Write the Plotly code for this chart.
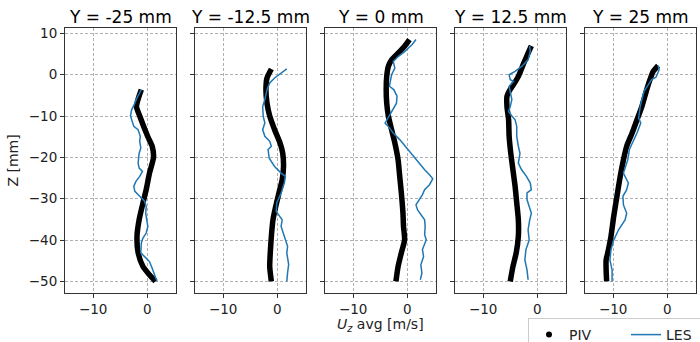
import plotly.graph_objects as go

titles = ["Y = -25 mm", "Y = -12.5 mm", "Y = 0 mm", "Y = 12.5 mm", "Y = 25 mm"]

# PIV profiles (Uz avg [m/s], Z [mm])
piv_z_1 = [-3.6, -5.5, -7.7, -10, -15, -17.3, -20, -23.8, -27.8, -31, -35, -39, -43, -46.4, -48.4, -50]
piv_u_1 = [-1.1, -1.6, -2.0, -1.4, 0.1, 0.9, 1.15, 0.4, -0.2, -0.8, -1.5, -1.9, -1.7, -0.8, 0.4, 1.5]

piv_z_2 = [1.4, -0.8, -3.6, -6.9, -10, -13.3, -16.5, -19, -22.2, -25.4, -28.6, -31.9, -35.1, -39.1, -43.1, -46.4, -50]
piv_u_2 = [-1.1, -1.9, -2.1, -1.9, -1.4, -0.5, 0.5, 1.0, 1.15, 0.9, 0.3, -0.3, -0.8, -1.1, -1.3, -1.4, -1.1]

piv_z_3 = [8.5, 6.9, 5.2, 3.6, 2.0, -0.4, -3.6, -6.9, -10, -13.3, -16.5, -20.6, -24.6, -28.6, -33.5, -36.7, -39.9, -43.1, -46.4, -50]
piv_u_3 = [0.4, -0.5, -1.7, -2.9, -3.5, -3.8, -3.9, -3.8, -3.5, -2.9, -2.3, -1.7, -1.4, -1.1, -0.8, -0.7, -0.5, -1.1, -1.7, -2.1]

piv_z_4 = [7.0, 5.2, 2.8, -0.4, -2.4, -4.0, -5.2, -7.7, -10.9, -14.9, -19, -23, -27, -31, -35.1, -39.1, -43.1, -46.4, -50]
piv_u_4 = [-1.1, -1.7, -2.5, -3.5, -4.4, -5.2, -5.6, -5.6, -5.3, -5.2, -4.9, -4.5, -4.1, -3.8, -3.5, -3.5, -3.9, -4.5, -5.0]

piv_z_5 = [2.2, 0.8, -1.2, -3.6, -7.7, -10.9, -14.1, -17.3, -20.6, -24.6, -29.4, -34.3, -39.1, -43.1, -44.8, -47.2, -50]
piv_u_5 = [-1.7, -2.6, -3.2, -3.8, -4.7, -5.6, -6.5, -7.5, -8.1, -8.7, -9.3, -9.9, -10.4, -11.0, -11.3, -11.3, -11.2]

# LES profiles
les_z_1 = [-3.6, -5.6, -7.5, -8.5, -10, -10.9, -12.5, -13.3, -14.9, -16.1, -17.7, -19, -21.4, -22.6, -23.4, -24.6,
           -25.8, -27, -28.2, -29.4, -30.6, -31.9, -33.5, -35.1, -36.7, -38.3, -39.5, -40.7, -43.1, -44, -45.2,
           -46.8, -48.4, -50]
les_u_1 = [-1.1, -1.9, -2.5, -2.9, -3.1, -2.9, -2.5, -1.7, -1.3, -1.4, -1.2, -1.5, -1.7, -1.5, -0.9, -1.4,
           -2.1, -2.5, -2.3, -1.4, -0.5, -0.2, -0.3, -0.1, 0.1, -0.2, -0.8, -1.1, -1.2, -0.5, 0.4,
           0.9, 1.3, 1.8]

les_z_2 = [1.4, 0.4, -0.8, -2, -3.6, -6, -7.7, -10, -11.7, -13.3, -14.9, -16.1, -17.3, -18.1, -20.2, -22.2,
           -23.8, -24.6, -26.2, -28.6, -31, -33.1, -34.3, -35.1, -36.7, -39.1, -41.5, -43.1, -45.9, -47.9, -50]
les_u_2 = [1.75, 0.7, -0.5, -1.4, -1.9, -2.3, -2.7, -2.6, -2.3, -2.7, -2.3, -1.4, -1.1, -1.7, -1.5, -0.5,
           0.7, 1.5, 1.3, 0.7, -0.1, -0.2, 0.4, 0.9, 0.7, 1.3, 1.9, 1.75, 2.1, 1.9, 1.75]

les_z_3 = [8.5, 7.3, 5.6, 4.4, 3.2, 1.6, 0, -1.6, -2.8, -3.6, -5.2, -6.9, -8.9, -10.9, -11.7, -12.5, -14.1,
           -15.7, -18.1, -19.8, -21.4, -23, -24.2, -25.2, -26.6, -27.8, -29, -30.2, -31.5, -32.7, -33.9,
           -35.1, -36.7, -38.7, -39.9, -42.3, -44, -46, -48, -49.6]
les_u_3 = [1.6, 0.9, -0.5, -1.7, -2.6, -2.3, -2.9, -3.1, -3.3, -2.5, -1.9, -2.0, -2.9, -3.8, -4.1, -3.5, -2.6,
           -1.4, 0.1, 1.3, 2.2, 3.2, 4.1, 4.7, 4.1, 3.2, 2.8, 2.2, 1.6, 1.9, 2.5,
           3.2, 3.3, 3.2, 3.5, 2.8, 3.0, 2.5, 2.7, 2.4]

les_z_4 = [6.9, 5.6, 3.6, 2.0, 0.8, 0, -1.2, -1.6, -2.8, -4.4, -6, -7.7, -8.9, -10, -10.9, -12.5, -14.9,
           -17.3, -19, -21.4, -23, -24.6, -26.2, -27.8, -28.6, -30.2, -31.9, -33.5, -35.1, -37.5, -40,
           -42.3, -44.8, -47.2, -49.6]
les_u_4 = [-1.4, -1.3, -1.7, -2.9, -4.1, -5.2, -5.0, -4.4, -5.2, -4.9, -4.7, -5.0, -5.3, -4.7, -4.1, -3.8, -3.8,
           -3.5, -3.2, -3.5, -2.9, -2.0, -1.3, -1.1, -1.9, -1.9, -1.5, -1.1, -1.4, -1.7, -1.5,
           -2.1, -2.3, -1.9, -1.7]

les_z_5 = [2.2, 1.2, -0.6, -1.2, -2.4, -4.0, -6.0, -7.7, -10.5, -11.7, -14.1, -16.5, -18.1, -20.6, -23.8,
           -26.2, -27.8, -29.4, -31.5, -33.5, -35.1, -37.5, -40, -42.3, -44.8, -47.2, -50]
les_u_5 = [-1.7, -1.5, -2.1, -2.9, -3.5, -4.3, -4.7, -5.0, -5.3, -4.9, -5.6, -6.5, -7.0, -7.3, -8.1,
           -7.2, -7.5, -8.2, -8.1, -7.5, -7.8, -9.0, -9.9, -10.4, -10.6, -10.2, -10.2]

piv = [(piv_u_1, piv_z_1), (piv_u_2, piv_z_2), (piv_u_3, piv_z_3), (piv_u_4, piv_z_4), (piv_u_5, piv_z_5)]
les = [(les_u_1, les_z_1), (les_u_2, les_z_2), (les_u_3, les_z_3), (les_u_4, les_z_4), (les_u_5, les_z_5)]

y_ticks = [-50, -40, -30, -20, -10, 0, 10]
x_ticks = [-10, 0]

W, H = 700, 342
ml, mr, mt, mb = 65, 4, 28, 49
pw = W - ml - mr
ph = H - mt - mb
starts = [0, 130, 260, 390, 520]
width = 111

fig = go.Figure()
font = "DejaVu Sans, sans-serif"
for i in range(5):
    xa = "x" if i == 0 else f"x{i+1}"
    ya = "y" if i == 0 else f"y{i+1}"
    fig.add_trace(go.Scatter(x=piv[i][0], y=piv[i][1], mode="lines",
                             line=dict(color="black", width=5.5, shape="spline", smoothing=0.6),
                             showlegend=False, xaxis=xa, yaxis=ya, hoverinfo="skip"))
    fig.add_trace(go.Scatter(x=les[i][0], y=les[i][1], mode="lines",
                             line=dict(color="#1f77b4", width=1.5),
                             name="LES", showlegend=False,
                             xaxis=xa, yaxis=ya))
    d0 = starts[i] / pw
    d1 = (starts[i] + width) / pw
    axcommon = dict(showline=True, linecolor="#333333", linewidth=1, mirror=True,
                    ticks="outside", ticklen=4, tickcolor="#333333",
                    showgrid=True, gridcolor="#b0b0b0", griddash="3px,2px", gridwidth=1,
                    zeroline=False, automargin=False,
                    tickfont=dict(family=font, size=13.5, color="#222"))
    fig.layout[f"xaxis{i+1 if i else ''}"] = go.layout.XAxis(
        domain=[d0, d1], range=[-15.2, 5.3], tickvals=x_ticks, anchor=ya, **axcommon)
    fig.layout[f"yaxis{i+1 if i else ''}"] = go.layout.YAxis(
        domain=[0, 1], range=[-52.8, 11.3], tickvals=y_ticks, anchor=xa,
        showticklabels=(i == 0), **axcommon)
    fig.add_annotation(text=titles[i], x=(d0 + d1) / 2, y=1.0, xref="paper", yref="paper",
                       xanchor="center", yanchor="bottom", yshift=-1, showarrow=False,
                       font=dict(family=font, size=17, color="black"))

# legend entries
fig.add_trace(go.Scatter(x=[None], y=[None], mode="markers", name="PIV",
                         marker=dict(color="black", size=6)))
fig.add_trace(go.Scatter(x=[None], y=[None], mode="lines", name="LES",
                         line=dict(color="#1f77b4", width=1.5)))

fig.layout.yaxis.title = dict(text="Z [mm]", font=dict(family=font, size=14, color="#222"), standoff=6)

fig.add_annotation(text="<i>U</i><sub><i>z</i></sub> avg [m/s]",
                   x=(starts[2] + width / 2) / pw, y=(ph - (325 - mt)) / ph, xref="paper", yref="paper",
                   xanchor="center", yanchor="middle", showarrow=False,
                   font=dict(family=font, size=14, color="#222"))

fig.update_layout(
    width=W, height=H, margin=dict(l=ml, r=mr, t=mt, b=mb, autoexpand=False),
    paper_bgcolor="white", plot_bgcolor="white",
    showlegend=True,
    legend=dict(orientation="h", x=(528 - ml) / pw, y=(ph - (318 - mt)) / ph,
                xanchor="left", yanchor="top", bgcolor="white",
                bordercolor="#cccccc", borderwidth=1,
                font=dict(family=font, size=14, color="#222"),
                entrywidth=52, entrywidthmode="pixels"),
)

fig.write_html("out.html", config={"displayModeBar": False},
               post_script="document.body.style.margin='0';document.body.style.overflow='hidden';")
